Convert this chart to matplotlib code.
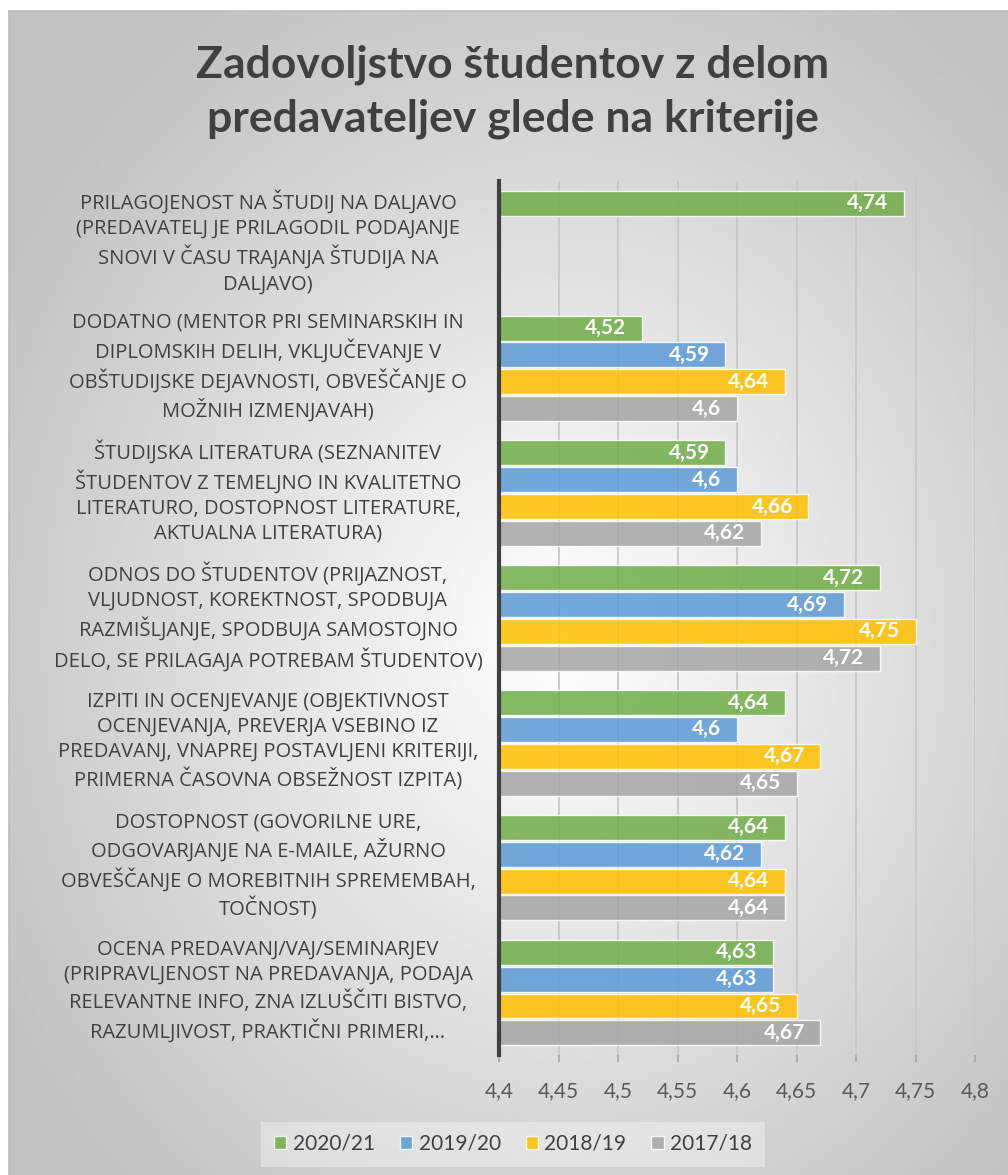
import numpy as np
import matplotlib
matplotlib.use("Agg")
import matplotlib.pyplot as plt
from matplotlib.transforms import blended_transform_factory

plt.rcParams["font.family"] = ["Lato", "DejaVu Sans"]

categories = [
    "PRILAGOJENOST NA ŠTUDIJ NA DALJAVO\n(PREDAVATELJ JE PRILAGODIL PODAJANJE\nSNOVI V ČASU TRAJANJA ŠTUDIJA NA\nDALJAVO)",
    "DODATNO (MENTOR PRI SEMINARSKIH IN\nDIPLOMSKIH DELIH, VKLJUČEVANJE V\nOBŠTUDIJSKE DEJAVNOSTI, OBVEŠČANJE O\nMOŽNIH IZMENJAVAH)",
    "ŠTUDIJSKA LITERATURA (SEZNANITEV\nŠTUDENTOV Z TEMELJNO IN KVALITETNO\nLITERATURO, DOSTOPNOST LITERATURE,\nAKTUALNA LITERATURA)",
    "ODNOS DO ŠTUDENTOV (PRIJAZNOST,\nVLJUDNOST, KOREKTNOST, SPODBUJA\nRAZMIŠLJANJE, SPODBUJA SAMOSTOJNO\nDELO, SE PRILAGAJA POTREBAM ŠTUDENTOV)",
    "IZPITI IN OCENJEVANJE (OBJEKTIVNOST\nOCENJEVANJA, PREVERJA VSEBINO IZ\nPREDAVANJ, VNAPREJ POSTAVLJENI KRITERIJI,\nPRIMERNA ČASOVNA OBSEŽNOST IZPITA)",
    "DOSTOPNOST (GOVORILNE URE,\nODGOVARJANJE NA E-MAILE, AŽURNO\nOBVEŠČANJE O MOREBITNIH SPREMEMBAH,\nTOČNOST)",
    "OCENA PREDAVANJ/VAJ/SEMINARJEV\n(PRIPRAVLJENOST NA PREDAVANJA, PODAJA\nRELEVANTNE INFO, ZNA IZLUŠČITI BISTVO,\nRAZUMLJIVOST, PRAKTIČNI PRIMERI,…",
]

years = ["2020/21", "2019/20", "2018/19", "2017/18"]
v_2020_21 = [4.74, 4.52, 4.59, 4.72, 4.64, 4.64, 4.63]
v_2019_20 = [None, 4.59, 4.60, 4.69, 4.60, 4.62, 4.63]
v_2018_19 = [None, 4.64, 4.66, 4.75, 4.67, 4.64, 4.65]
v_2017_18 = [None, 4.60, 4.62, 4.72, 4.65, 4.64, 4.67]
series = [v_2020_21, v_2019_20, v_2018_19, v_2017_18]
colors = ["#70AD47", "#5B9BD5", "#FFC000", "#A5A5A5"]

xticks = [4.4, 4.45, 4.5, 4.55, 4.6, 4.65, 4.7, 4.75, 4.8]

W, H = 1008, 1175
fig = plt.figure(figsize=(W / 100, H / 100), dpi=100)

# background: radial gradient chart area
bg = fig.add_axes([9 / W, 0, 1 - 9 / W, 1 - 11 / H], zorder=-5)
yy, xx = np.mgrid[0:400, 0:400]
r = np.sqrt(((xx - 220) / 320) ** 2 + ((yy - 215) / 320) ** 2)
shade = np.clip(1.0 - 0.3 * r, 0.76, 1.0)
bg.imshow(shade, cmap="gray", vmin=0, vmax=1, aspect="auto", extent=[0, 1, 0, 1])
bg.set_xticks([]); bg.set_yticks([])
for side in ["right", "bottom"]:
    bg.spines[side].set_visible(False)
for side in ["top", "left"]:
    bg.spines[side].set_color("#bdbdbd")
    bg.spines[side].set_linewidth(1.2)

ax = fig.add_axes([499 / W, 1 - 1055 / H, (975 - 499) / W, (1055 - 181) / H])
ax.set_facecolor("none")

gap = 0.07
step = 0.215
bh = 0.2
for j, (vals, col) in enumerate(zip(series, colors)):
    for i, v in enumerate(vals):
        if v is None:
            continue
        yc = i + gap + step * (j + 0.5)
        ax.barh(yc, v - 4.4, left=4.4, height=bh, color=col, alpha=0.85,
                edgecolor=(1, 1, 1, 0.6), linewidth=1, zorder=3)
        txt = f"{v:g}".replace(".", ",")
        ax.text(v - 0.013, yc, txt, ha="right", va="center", color="white",
                fontsize=15, fontweight="bold", zorder=4)

ax.set_xlim(4.4, 4.8)
ax.set_ylim(len(categories), 0)
ax.set_xticks(xticks)
ax.set_xticklabels([f"{t:g}".replace(".", ",") for t in xticks])
ax.tick_params(axis="x", colors="#a6a6a6", length=5, width=1.2, pad=14,
               labelsize=15, labelcolor="#595959")
ax.set_yticks([])
ax.grid(axis="x", color="#c8c8c8", linewidth=1.3, zorder=1)
for side in ["top", "right", "bottom"]:
    ax.spines[side].set_visible(False)
ax.spines["left"].set_color("#404040")
ax.spines["left"].set_linewidth(3)
ax.spines["left"].set_zorder(5)

# category labels (centered blocks left of the axis)
tr = blended_transform_factory(fig.transFigure, ax.transData)
for i, lab in enumerate(categories):
    ax.text(268 / W, i + 0.49, lab, transform=tr, ha="center", va="center",
            multialignment="center", fontsize=14.5, color="#404040",
            linespacing=1.34, family=["Open Sans", "DejaVu Sans"])

fig.text(513 / W, 1 - 92 / H, "Zadovoljstvo študentov z delom\npredavateljev glede na kriterije",
         ha="center", va="center", fontsize=32, fontweight="bold",
         color="#404040", linespacing=1.4)

handles = [plt.Rectangle((0, 0), 1, 1, facecolor=c, alpha=0.85,
                         edgecolor=(1, 1, 1, 0.6)) for c in colors]
leg = fig.legend(handles, years, loc="center", ncol=4,
                 bbox_to_anchor=(513 / W, 1 - 1144 / H), fontsize=15,
                 frameon=True, handlelength=0.6, handleheight=0.6,
                 handletextpad=0.3, columnspacing=1.2, borderpad=0.6)
leg.get_frame().set_facecolor("white")
leg.get_frame().set_alpha(0.35)
leg.get_frame().set_edgecolor("none")
leg.get_frame().set_boxstyle("square", pad=0)
for t in leg.get_texts():
    t.set_color("#404040")

fig.savefig("out.png", dpi=100)
